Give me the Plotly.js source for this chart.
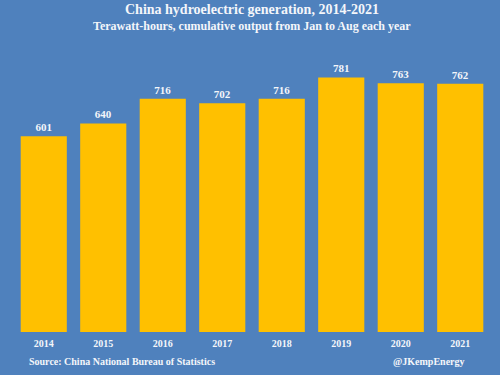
<!DOCTYPE html>
<html><head><meta charset="utf-8">
<script src="https://cdn.plot.ly/plotly-3.0.1.min.js"></script>
<style>html,body{margin:0;padding:0;background:#4f81bd;}#chart{width:500px;height:375px;}</style>
</head><body><div id="chart"></div>
<script>
const years = ['2014','2015','2016','2017','2018','2019','2020','2021'];
const output = [601, 640, 716, 702, 716, 781, 763, 762];
const titleText = 'China hydroelectric generation, 2014-2021';
const subtitleText = 'Terawatt-hours, cumulative output from Jan to Aug each year';
const sourceText = 'Source: China National Bureau of Statistics';
const handleText = '@JKempEnergy';

const font = 'Liberation Serif, Times New Roman, serif';
const white = '#f4f6fa';
const trace = {
  type: 'bar', x: years, y: output,
  marker: {color: '#ffc000'},
  text: output.map(String), textposition: 'outside', cliponaxis: false,
  textfont: {family: font, size: 11, color: white, weight: 'bold'},
  hoverinfo: 'none'
};
const layout = {
  width: 500, height: 375,
  paper_bgcolor: '#4f81bd', plot_bgcolor: '#4f81bd',
  margin: {l: 14, r: 10, t: 55, b: 43},
  bargap: 0.225,
  showlegend: false,
  xaxis: {type: 'category', showgrid: false, zeroline: false, showline: false, ticks: '',
    ticklabelstandoff: 4,
    tickfont: {family: font, size: 10, color: white, weight: 'bold'}},
  yaxis: {range: [0, 850], visible: false, showgrid: false, zeroline: false},
  annotations: [
    {text: '<b>' + titleText + '</b>', xref: 'paper', yref: 'paper', x: 0.5, y: 1.165,
      xanchor: 'center', yanchor: 'middle', showarrow: false, font: {family: font, size: 14, color: white}},
    {text: '<b>' + subtitleText + '</b>', xref: 'paper', yref: 'paper', x: 0.5, y: 1.103,
      xanchor: 'center', yanchor: 'middle', showarrow: false, font: {family: font, size: 12, color: white}},
    {text: '<b>' + sourceText + '</b>', xref: 'paper', yref: 'paper', x: 0.027, y: -0.108,
      xanchor: 'left', yanchor: 'middle', showarrow: false, font: {family: font, size: 10, color: white}},
    {text: '<b>' + handleText + '</b>', xref: 'paper', yref: 'paper', x: 0.952, y: -0.108,
      xanchor: 'right', yanchor: 'middle', showarrow: false, font: {family: font, size: 10, color: white}}
  ]
};
Plotly.newPlot('chart', [trace], layout, {displayModeBar: false, staticPlot: true});
</script></body></html>
